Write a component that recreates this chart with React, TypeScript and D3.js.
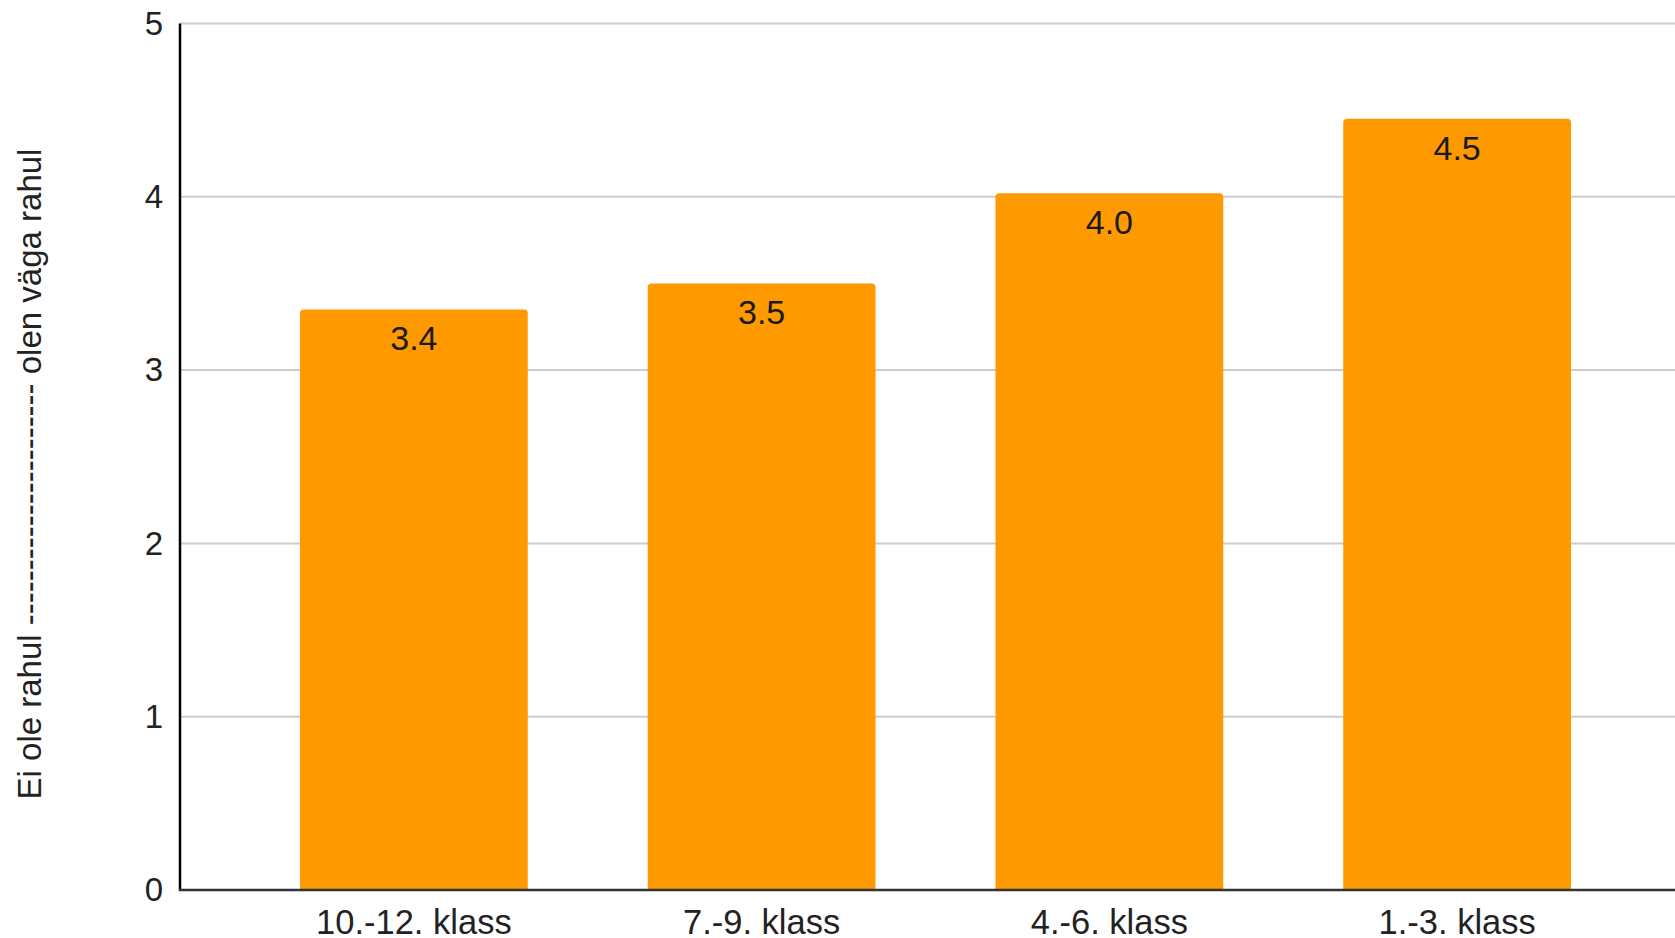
import React from "react";
import * as d3 from "d3";

const categories = ["10.-12. klass", "7.-9. klass", "4.-6. klass", "1.-3. klass"];
const values = [3.35, 3.5, 4.02, 4.45];
const valueLabels = ["3.4", "3.5", "4.0", "4.5"];
const yTicks = [0, 1, 2, 3, 4, 5];
const yTitle = "Ei ole rahul ---------------------- olen väga rahul";

const W = 1675;
const H = 938;
const FONT = "'Liberation Sans', Arial, sans-serif";

function topRoundedRect(x: number, y: number, w: number, h: number, r: number) {
  return `M${x},${y + h}V${y + r}Q${x},${y} ${x + r},${y}H${x + w - r}Q${x + w},${y} ${x + w},${y + r}V${y + h}Z`;
}

export default function App() {
  const left = 180;
  const right = 1691;
  const y0 = 890;
  const yTop = 23.5;

  const x = d3.scaleBand<string>().domain(categories).range([left, right]).paddingInner(0.345).paddingOuter(0.345);
  const y = d3.scaleLinear().domain([0, 5]).range([y0, yTop]);

  return (
    <div style={{ position: "fixed", left: 0, top: 0, width: W, height: H, background: "#fff" }}>
      <svg width={W} height={H} style={{ display: "block" }}>
        <rect x={0} y={0} width={W} height={H} fill="#fff" />
        {yTicks.filter((t) => t > 0).map((t) => (
          <line key={t} x1={left} x2={W} y1={y(t)} y2={y(t)} stroke="#cccccc" strokeWidth={2} />
        ))}
        {values.map((v, i) => {
          const bx = x(categories[i])!;
          const bw = x.bandwidth();
          return (
            <g key={i}>
              <path d={topRoundedRect(bx, y(v), bw, y0 - y(v), 4)} fill="#ff9900" />
              <text x={bx + bw / 2} y={y(v) + 41} textAnchor="middle" fontFamily={FONT} fontSize={34} fill="#1a1a1a">
                {valueLabels[i]}
              </text>
              <text x={bx + bw / 2} y={934} textAnchor="middle" fontFamily={FONT} fontSize={34.5} fill="#222">
                {categories[i]}
              </text>
            </g>
          );
        })}
        {yTicks.map((t) => (
          <text key={t} x={163} y={y(t)} dy="0.34em" textAnchor="end" fontFamily={FONT} fontSize={33} fill="#222">
            {t}
          </text>
        ))}
        <line x1={left} x2={left} y1={yTop} y2={y0 + 1} stroke="#000" strokeWidth={2.5} />
        <line x1={left - 1} x2={W} y1={y0} y2={y0} stroke="#333" strokeWidth={2.5} />
        <text
          transform={`translate(29,474) rotate(-90)`}
          textAnchor="middle"
          dominantBaseline="central"
          fontFamily={FONT}
          fontSize={33}
          fill="#222"
        >
          {yTitle}
        </text>
      </svg>
    </div>
  );
}
